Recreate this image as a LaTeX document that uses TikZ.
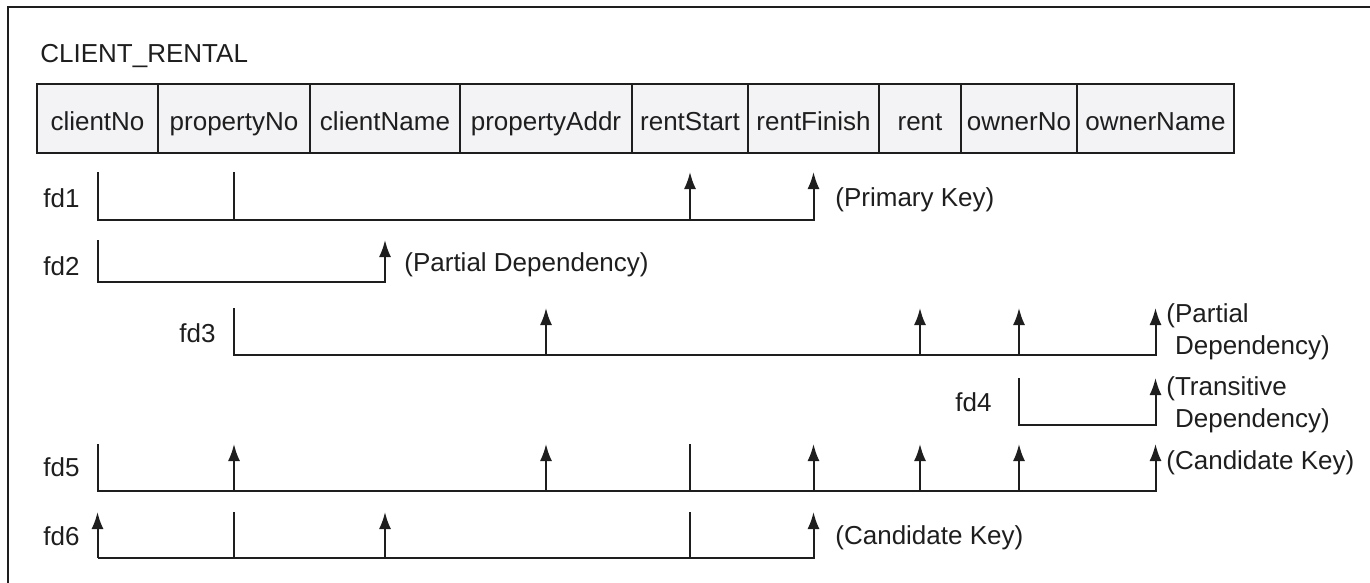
\documentclass[tikz,border=0pt]{standalone}
\usepackage{fontspec}
\setmainfont{Liberation Sans}
\usepackage{xcolor}
\usepackage{tikz}
\usetikzlibrary{positioning,arrows.meta}
\definecolor{ink}{HTML}{1E1E1E}
\definecolor{cellbg}{HTML}{F3F3F5}
\newcommand{\fdfont}{\fontsize{13}{16}\selectfont}
\tikzset{
  outline/.style={draw=ink, line width=1pt},
  cell/.style={draw=ink, line width=1pt, fill=cellbg, minimum height=34.5pt,
    text height=12.5pt, text depth=0pt, inner sep=0pt, outer sep=0pt, text=ink, font=\fdfont},
  fdl/.style={draw=ink, line width=1pt, line join=miter},
  fda/.style={fdl, -{Latex[length=8.5pt,width=6pt]}},
  lab/.style={text=ink, font=\fdfont, inner sep=0pt},
}

\begin{document}
\begin{tikzpicture}[x=0.5pt, y=-0.5pt]
  \useasboundingbox (0,0) rectangle (1370,583);
  \draw[outline] (8,583) -- (8,7) -- (1370,7);

  \node[lab, anchor=base west] (title) at (40,63) {CLIENT\_RENTAL};

  % the relation
  \node[cell, minimum width=60.5pt, anchor=west] (clientNo) at (37,118.5) {clientNo};
  \node[cell, minimum width=76pt, right=0pt of clientNo] (propertyNo) {propertyNo};
  \node[cell, minimum width=75pt, right=0pt of propertyNo] (clientName) {clientName};
  \node[cell, minimum width=86pt, right=0pt of clientName] (propertyAddr) {propertyAddr};
  \node[cell, minimum width=58pt, right=0pt of propertyAddr] (rentStart) {rentStart};
  \node[cell, minimum width=65.5pt, right=0pt of rentStart] (rentFinish) {rentFinish};
  \node[cell, minimum width=41pt, right=0pt of rentFinish] (rent) {rent};
  \node[cell, minimum width=58pt, right=0pt of rent] (ownerNo) {ownerNo};
  \node[cell, minimum width=78.5pt, right=0pt of ownerNo] (ownerName) {ownerName};

  % fd1
  \coordinate (t1) at (0,172);
  \coordinate (b1) at (0,220);
  \node[lab, anchor=west] (fd1) at (43,198) {fd1};
  \draw[fda] (clientNo |- t1) |- (rentFinish |- b1) -- (rentFinish |- t1);
  \draw[fdl] (propertyNo |- t1) -- (propertyNo |- b1);
  \draw[fda] (rentStart |- b1) -- (rentStart |- t1);
  \node[lab, anchor=west] (pk1) at (835,200) {(Primary Key)};

  % fd2
  \coordinate (t2) at (0,240);
  \coordinate (b2) at (0,282);
  \node[lab, anchor=west] (fd2) at (43,266) {fd2};
  \draw[fda] (clientNo |- t2) |- (clientName |- b2) -- (clientName |- t2);
  \node[lab, anchor=west] (pd2) at (404,265) {(Partial Dependency)};

  % fd3
  \coordinate (t3) at (0,308);
  \coordinate (b3) at (0,355);
  \node[lab, anchor=west] (fd3) at (179,333) {fd3};
  \draw[fda] (propertyNo |- t3) |- (ownerName |- b3) -- (ownerName |- t3);
  \draw[fda] (propertyAddr |- b3) -- (propertyAddr |- t3);
  \draw[fda] (rent |- b3) -- (rent |- t3);
  \draw[fda] (ownerNo |- b3) -- (ownerNo |- t3);
  \node[lab, anchor=west, align=left] (pd3) at (1166,332) {(Partial\\\hphantom{(}Dependency)};

  % fd4
  \coordinate (t4) at (0,378);
  \coordinate (b4) at (0,425);
  \node[lab, anchor=west] (fd4) at (955,402) {fd4};
  \draw[fda] (ownerNo |- t4) |- (ownerName |- b4) -- (ownerName |- t4);
  \node[lab, anchor=west, align=left] (td4) at (1166,405) {(Transitive\\\hphantom{(}Dependency)};

  % fd5
  \coordinate (t5) at (0,444);
  \coordinate (b5) at (0,491);
  \node[lab, anchor=west] (fd5) at (43,467) {fd5};
  \draw[fda] (clientNo |- t5) |- (ownerName |- b5) -- (ownerName |- t5);
  \draw[fda] (propertyNo |- b5) -- (propertyNo |- t5);
  \draw[fda] (propertyAddr |- b5) -- (propertyAddr |- t5);
  \draw[fdl] (rentStart |- t5) -- (rentStart |- b5);
  \draw[fda] (rentFinish |- b5) -- (rentFinish |- t5);
  \draw[fda] (rent |- b5) -- (rent |- t5);
  \draw[fda] (ownerNo |- b5) -- (ownerNo |- t5);
  \node[lab, anchor=west] (ck5) at (1166,463) {(Candidate Key)};

  % fd6
  \coordinate (t6) at (0,512);
  \coordinate (b6) at (0,558);
  \node[lab, anchor=west] (fd6) at (43,536) {fd6};
  \draw[fda] (clientNo |- b6) -- (clientNo |- t6);
  \draw[fda] (clientNo |- b6) -- (rentFinish |- b6) -- (rentFinish |- t6);
  \draw[fdl] (propertyNo |- t6) -- (propertyNo |- b6);
  \draw[fda] (clientName |- b6) -- (clientName |- t6);
  \draw[fdl] (rentStart |- t6) -- (rentStart |- b6);
  \node[lab, anchor=west] (ck6) at (835,538) {(Candidate Key)};
\end{tikzpicture}
\end{document}
